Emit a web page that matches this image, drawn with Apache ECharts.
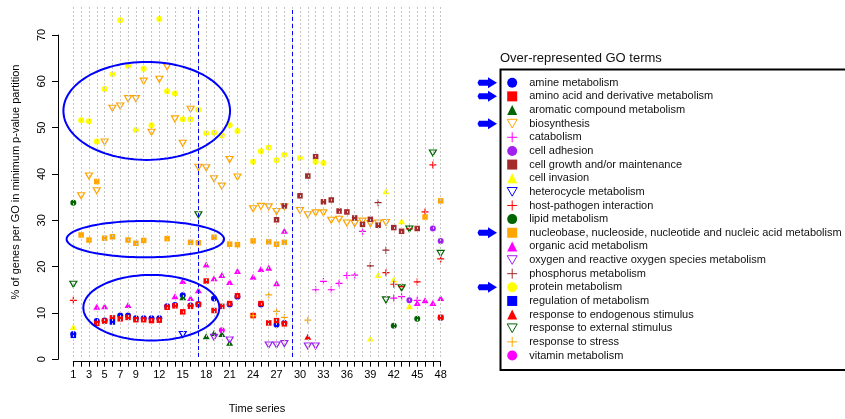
<!DOCTYPE html>
<html><head><meta charset="utf-8">
<script src="https://cdn.jsdelivr.net/npm/echarts@6/dist/echarts.min.js"></script>
<style>html,body{margin:0;padding:0;background:#fff}#c{width:845px;height:419px}</style>
</head><body><div id="c"></div><script>
const termNames = ['amine metabolism','amino acid and derivative metabolism','aromatic compound metabolism','biosynthesis','catabolism','cell adhesion','cell growth and/or maintenance','cell invasion','heterocycle metabolism','host-pathogen interaction','lipid metabolism','nucleobase, nucleoside, nucleotide and nucleic acid metabolism','organic acid metabolism','oxygen and reactive oxygen species metabolism','phosphorus metabolism','protein metabolism','regulation of metabolism','response to endogenous stimulus','response to external stimulus','response to stress','vitamin metabolism'];
const highlightedTerms = ['amine metabolism','amino acid and derivative metabolism','biosynthesis','nucleobase, nucleoside, nucleotide and nucleic acid metabolism','protein metabolism'];
const timePoints = [1,2,3,4,5,6,7,8,9,10,11,12,13,14,15,16,17,18,19,20,21,22,23,24,25,26,27,28,29,30,31,32,33,34,35,36,37,38,39,40,41,42,43,44,45,46,47,48];
const timeLabels = [1,3,5,7,9,12,15,18,21,24,27,30,33,36,39,42,45,48];
const phaseBreaks = [17, 29];

const amine = [[1,5.0],[4,7.8],[5,7.9],[7,9.0],[8,9.0],[9,8.4],[10,8.4],[11,8.4],[12,8.4],[13,11.0],[14,11.3],[15,13.4],[16,11.2],[17,11.5],[19,12.7],[21,11.4],[22,13.1],[25,11.4],[27,7.0],[28,7.4],[48,8.5]];
const aminoAcid = [[4,7.3],[5,7.8],[6,8.5],[7,8.3],[8,8.6],[9,8.1],[10,8.1],[11,7.9],[12,8.0],[13,10.8],[14,11.1],[15,9.8],[16,11.0],[17,11.4],[18,16.5],[19,10.1],[20,11.0],[21,11.6],[22,13.3],[24,9.0],[25,11.6],[26,7.4],[27,7.9],[28,7.2],[48,8.6]];
const aromatic = [[15,13.0],[18,4.5],[19,5.2],[20,5.0],[21,3.1]];
const biosynthesis = [[2,35.0],[3,39.3],[4,36.1],[5,46.7],[6,54.0],[7,54.5],[8,56.1],[9,56.1],[10,59.9],[11,48.8],[12,60.3],[13,63.0],[14,51.7],[15,46.4],[16,53.8],[17,41.2],[18,41.1],[19,38.7],[20,37.1],[21,42.9],[22,39.1],[24,32.2],[25,32.7],[26,32.6],[27,31.6],[28,32.6],[30,31.8],[31,30.9],[32,31.3],[33,31.3],[34,29.7],[35,29.9],[36,29.1],[37,29.0],[38,29.5],[39,29.0],[40,29.1],[41,29.2]];
const catabolism = [[32,14.6],[33,16.4],[34,14.6],[35,16.0],[36,17.7],[37,17.8],[38,27.3],[42,12.8],[43,13.1],[45,12.3]];
const cellAdhesion = [[44,12.3],[47,27.9],[48,25.2]];
const cellGrowth = [[27,29.8],[28,32.8],[30,35.0],[31,39.3],[32,43.5],[33,33.7],[34,34.1],[35,31.7],[36,31.5],[37,30.2],[38,28.8],[39,29.9],[40,28.6],[42,28.1],[43,27.3],[45,27.9]];
const cellInvasion = [[1,6.5],[39,4.0],[40,17.8],[41,36.0],[42,16.9],[43,29.5],[44,11.0]];
const heterocycle = [[15,4.9]];
const hostPathogen = [[1,12.3],[41,18.3],[42,15.8],[43,15.3],[44,27.8],[45,16.3],[46,31.5],[47,41.7],[48,21.3]];
const lipid = [[1,33.5],[42,6.8],[45,8.3]];
const nucleobase = [[2,26.5],[3,25.4],[4,38.1],[5,25.8],[6,26.1],[8,25.4],[9,24.7],[10,25.3],[13,25.7],[16,24.9],[17,24.8],[19,26.0],[21,24.5],[22,24.4],[24,25.2],[26,25.0],[27,24.5],[28,24.9],[46,30.4],[48,33.9]];
const organicAcid = [[4,10.9],[5,11.0],[8,11.3],[14,13.2],[15,16.5],[16,12.8],[17,14.5],[18,20.1],[19,17.1],[20,17.8],[21,16.3],[22,18.7],[24,17.4],[25,19.1],[26,19.4],[27,16.0],[28,27.4],[45,11.7],[46,12.3],[47,11.7],[48,12.8]];
const oxygen = [[19,4.3],[21,3.7],[26,2.6],[27,2.6],[28,2.9],[31,2.4],[32,2.4]];
const phosphorus = [[39,19.8],[40,33.5],[41,23.2]];
const protein = [[2,51.4],[3,51.2],[4,46.8],[5,58.2],[6,61.4],[7,73.1],[8,63.2],[9,49.3],[10,62.6],[11,50.3],[12,73.4],[13,57.7],[14,57.2],[15,51.6],[16,51.6],[17,53.7],[18,48.6],[19,48.7],[20,48.1],[21,50.4],[22,49.1],[24,42.4],[25,44.7],[26,45.5],[27,42.7],[28,43.9],[30,43.2],[32,42.4],[33,42.1]];
const regulation = [[1,4.7],[6,7.6]];
const endogenous = [[31,4.4]];
const external = [[1,15.8],[17,30.9],[41,12.4],[43,15.0],[44,27.8],[47,44.3],[48,22.5]];
const stress = [[24,9.0],[26,13.5],[27,9.9],[28,8.6],[31,8.0]];
const vitamin = [[20,5.8]];
const termData = [amine,aminoAcid,aromatic,biosynthesis,catabolism,cellAdhesion,cellGrowth,cellInvasion,heterocycle,hostPathogen,lipid,nucleobase,organicAcid,oxygen,phosphorus,protein,regulation,endogenous,external,stress,vitamin];

// annotation ellipses (data units): centre x, centre y, radius x, radius y
const ellipseCx = [10.39, 10.21, 10.98];
const ellipseCy = [53.44, 25.6, 10.7];
const ellipseRx = [10.66, 10.07, 8.70];
const ellipseRy = [10.64, 3.95, 7.12];

// styles
const palette = ['#0000FF','#FF0000','#006400','#FFA500','#FF00FF','#A020F0','#A52A2A','#FFFF00'];
const shapes = ['circle','rect','triangle','path://M0,0L10,0L5,8.66Z','path://M5,0L5,10M0,5L10,5'];
const shapeSizes = [6, 5.5, [7,6], [7,6], 7];
const FONT = "'Liberation Sans', Arial, sans-serif";

const chart = echarts.init(document.getElementById('c'), null, {renderer:'canvas'});

const series = [{
  type:'scatter', xAxisIndex:0, yAxisIndex:0, data:[], silent:true,
  markLine:{silent:true, symbol:'none', label:{show:false}, animation:false,
    lineStyle:{color:'#C4C4C4', type:[2,2], width:1},
    data: timePoints.map(v=>({xAxis:v}))}
},{
  type:'scatter', xAxisIndex:0, yAxisIndex:0, data:[], silent:true, z:3,
  markLine:{silent:true, symbol:'none', label:{show:false}, animation:false,
    lineStyle:{color:'#0000FF', type:[4,3], width:1},
    data: phaseBreaks.map(v=>({xAxis:v}))}
}];
termNames.forEach((name,i)=>{
  const s = i % 5, c = palette[i % 8];
  const hollow = s >= 3;
  series.push({
    name, type:'scatter', xAxisIndex:0, yAxisIndex:0, data: termData[i],
    symbol: shapes[s], symbolSize: shapeSizes[s], z: 4,
    itemStyle: hollow ? {color:'rgba(0,0,0,0)', borderColor:c, borderWidth:1.2, opacity:1}
                      : {color:c, opacity:1},
    emphasis:{disabled:true}
  });
});

const option = {
  animation:false,
  backgroundColor:'#fff',
  grid:[
    {left:57.7, right:388.7, top:7, bottom:59.7},
    {left:73.3, right:404.3, top:300, bottom:57.3},
    {left:58, width:10, top:35, bottom:59.7}
  ],
  xAxis:[
    {gridIndex:0, type:'value', min:-1, max:50, axisLine:{show:false}, axisTick:{show:false}, axisLabel:{show:false}, splitLine:{show:false},
     name:'Time series', nameLocation:'middle', nameGap:46, nameTextStyle:{fontSize:11, fontFamily:FONT, color:'#000'}},
    {gridIndex:1, type:'value', min:1, max:48, interval:1,
     axisLine:{show:true, onZero:false, lineStyle:{color:'#000', width:1}},
     axisTick:{show:true, length:5, lineStyle:{color:'#000'}},
     axisLabel:{show:true, margin:8, fontSize:11, fontFamily:FONT, color:'#000',
       formatter: v => timeLabels.indexOf(v) >= 0 ? String(v) : ''},
     splitLine:{show:false}},
    {gridIndex:2, type:'value', show:false}
  ],
  yAxis:[
    {gridIndex:0, type:'value', min:0, max:76, axisLine:{show:false}, axisTick:{show:false}, axisLabel:{show:false}, splitLine:{show:false},
     name:'% of genes per GO in minimum p-value partition', nameLocation:'middle', nameGap:36, nameRotate:90,
     nameTextStyle:{fontSize:11, fontFamily:FONT, color:'#000'}},
    {gridIndex:1, type:'value', show:false},
    {gridIndex:2, type:'value', min:0, max:70, interval:10,
     axisLine:{show:true, onZero:false, lineStyle:{color:'#000', width:1}},
     axisTick:{show:true, length:6, lineStyle:{color:'#000'}},
     axisLabel:{show:true, rotate:90, margin:11, fontSize:11, fontFamily:FONT, color:'#000'},
     splitLine:{show:false}}
  ],
  legend:{
    data: termNames, orient:'vertical', left:506.7, top:75.9, padding:0,
    itemWidth:10, itemHeight:10, itemGap:0, selectedMode:false,
    itemStyle:{borderWidth:1},
    textStyle:{fontSize:11, fontFamily:FONT, color:'#111', lineHeight:13.64, padding:[0,0,0,7]}
  },
  series
};
chart.setOption(option);

// annotations: legend title, box, arrows, ellipses
const g = [];
g.push({type:'text', style:{text:'Over-represented GO terms', x:500, y:58, font:'13px '+FONT, fill:'#111', verticalAlign:'middle', align:'left'}});
g.push({type:'rect', shape:{x:500.5, y:69.5, width:360, height:300.5}, style:{fill:'none', stroke:'#000', lineWidth:2}});
const rowH = 13.64, rowTop = 75.9;
highlightedTerms.forEach(t=>{
  const idx = termNames.indexOf(t);
  const y = rowTop + (idx+0.5)*rowH;
  g.push({type:'polygon', shape:{points:[[479,y-3],[488,y-3],[488,y-5.5],[497,y],[488,y+5.5],[488,y+3],[479,y+3],[477.5,y]]}, style:{fill:'#0000FF'}});
});
for (let k=0;k<ellipseCx.length;k++){
  const c = chart.convertToPixel({gridIndex:0}, [ellipseCx[k], ellipseCy[k]]);
  const e = chart.convertToPixel({gridIndex:0}, [ellipseCx[k]+ellipseRx[k], ellipseCy[k]+ellipseRy[k]]);
  const rx = e[0]-c[0], ry = c[1]-e[1];
  const pts = [];
  for (let a=0;a<120;a++){ const t=a/120*Math.PI*2; pts.push([c[0]+rx*Math.cos(t), c[1]+ry*Math.sin(t)]); }
  g.push({type:'polygon', shape:{points:pts}, style:{fill:'none', stroke:'#0000FF', lineWidth:2}, z:10});
}
chart.setOption({graphic:{elements:g}});
</script></body></html>
